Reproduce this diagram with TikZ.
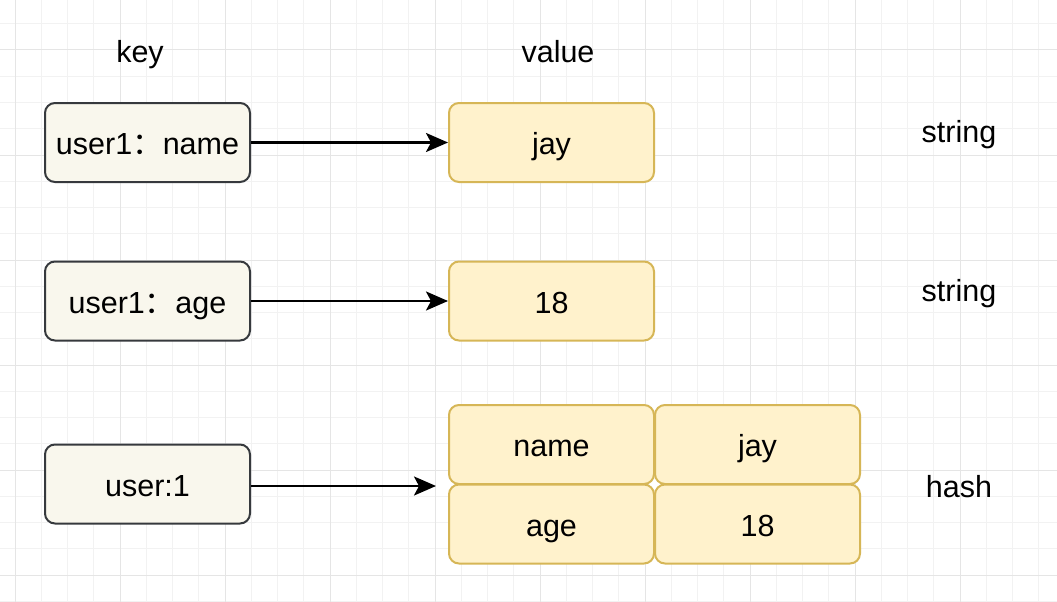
\documentclass[tikz,border=0pt]{standalone}
\usepackage{fontspec}
\setmainfont{Liberation Sans}
\newfontfamily\cjk{Noto Sans CJK SC}
\usetikzlibrary{arrows.meta}
\definecolor{gridminor}{HTML}{F2F2F2}
\definecolor{gridmajor}{HTML}{E5E5E5}
\definecolor{keyfill}{HTML}{F9F7ED}
\definecolor{keydraw}{HTML}{36393D}
\definecolor{valfill}{HTML}{FFF2CC}
\definecolor{valdraw}{HTML}{D6B656}
\tikzset{
  boxtext/.style={font=\fontsize{30.5}{36}\selectfont, text height=24.6pt, text depth=0pt},
  keybox/.style={draw=keydraw, fill=keyfill, line width=2pt, rounded corners=10pt,
    minimum width=205pt, minimum height=79pt, inner sep=0pt, boxtext},
  valbox/.style={draw=valdraw, fill=valfill, line width=2pt, rounded corners=10pt,
    minimum width=205pt, minimum height=79pt, inner sep=0pt, boxtext},
  lbl/.style={font=\fontsize{30.5}{36}\selectfont, inner sep=0pt, anchor=base},
  conn/.style={line width=2.5pt, -{Stealth[length=22pt,width=19pt,inset=5pt]}}
}
\begin{document}
\begin{tikzpicture}[x=1pt,y=-1pt]
\useasboundingbox (0,0) rectangle (1057,602);
\fill[white] (0,0) rectangle (1057,602);
% grid
\foreach \i in {0,...,40} {
  \pgfmathsetmacro\xx{15+26.25*(\i-1)}
  \draw[gridminor, line width=1pt] (\xx,0) -- (\xx,602);
}
\foreach \i in {0,...,23} {
  \pgfmathsetmacro\yy{50+26.25*(\i-2)}
  \draw[gridminor, line width=1pt] (0,\yy) -- (1057,\yy);
}
\foreach \xx in {15,120,225,330,435,540,645,750,855,960} {
  \draw[gridmajor, line width=1pt] (\xx,0) -- (\xx,602);
}
\foreach \yy in {50,155,260,365,470,575} {
  \draw[gridmajor, line width=1pt] (0,\yy) -- (1057,\yy);
}
% titles
\node[lbl] (tkey) at (140,63) {key};
\node[lbl] (tval) at (558,63) {value};
% keys
\node[keybox] (k1) at (147.5,142.5) {user1{\cjk ：}name};
\node[keybox] (k2) at (147.5,301) {user1{\cjk ：}age};
\node[keybox] (k3) at (147.5,484) {user:1};
% values
\node[valbox] (v1) at (551.5,142.5) {jay};
\node[valbox] (v2) at (551.5,301) {18};
\node[valbox] (h1) at (551.5,444.5) {name};
\node[valbox] (h2) at (757.5,444.5) {jay};
\node[valbox] (h3) at (551.5,524) {age};
\node[valbox] (h4) at (757.5,524) {18};
\coordinate (hin) at (436,486);
% types
\node[lbl] (s1) at (959,142) {string};
\node[lbl] (s2) at (959,301) {string};
\node[lbl] (s3) at (959,497) {hash};
% connectors
\draw[conn] (k1.east) -- (v1.west);
\draw[conn] (k2.east) -- (v2.west);
\draw[conn] (k3.east |- hin) -- (hin);
\end{tikzpicture}
\end{document}
